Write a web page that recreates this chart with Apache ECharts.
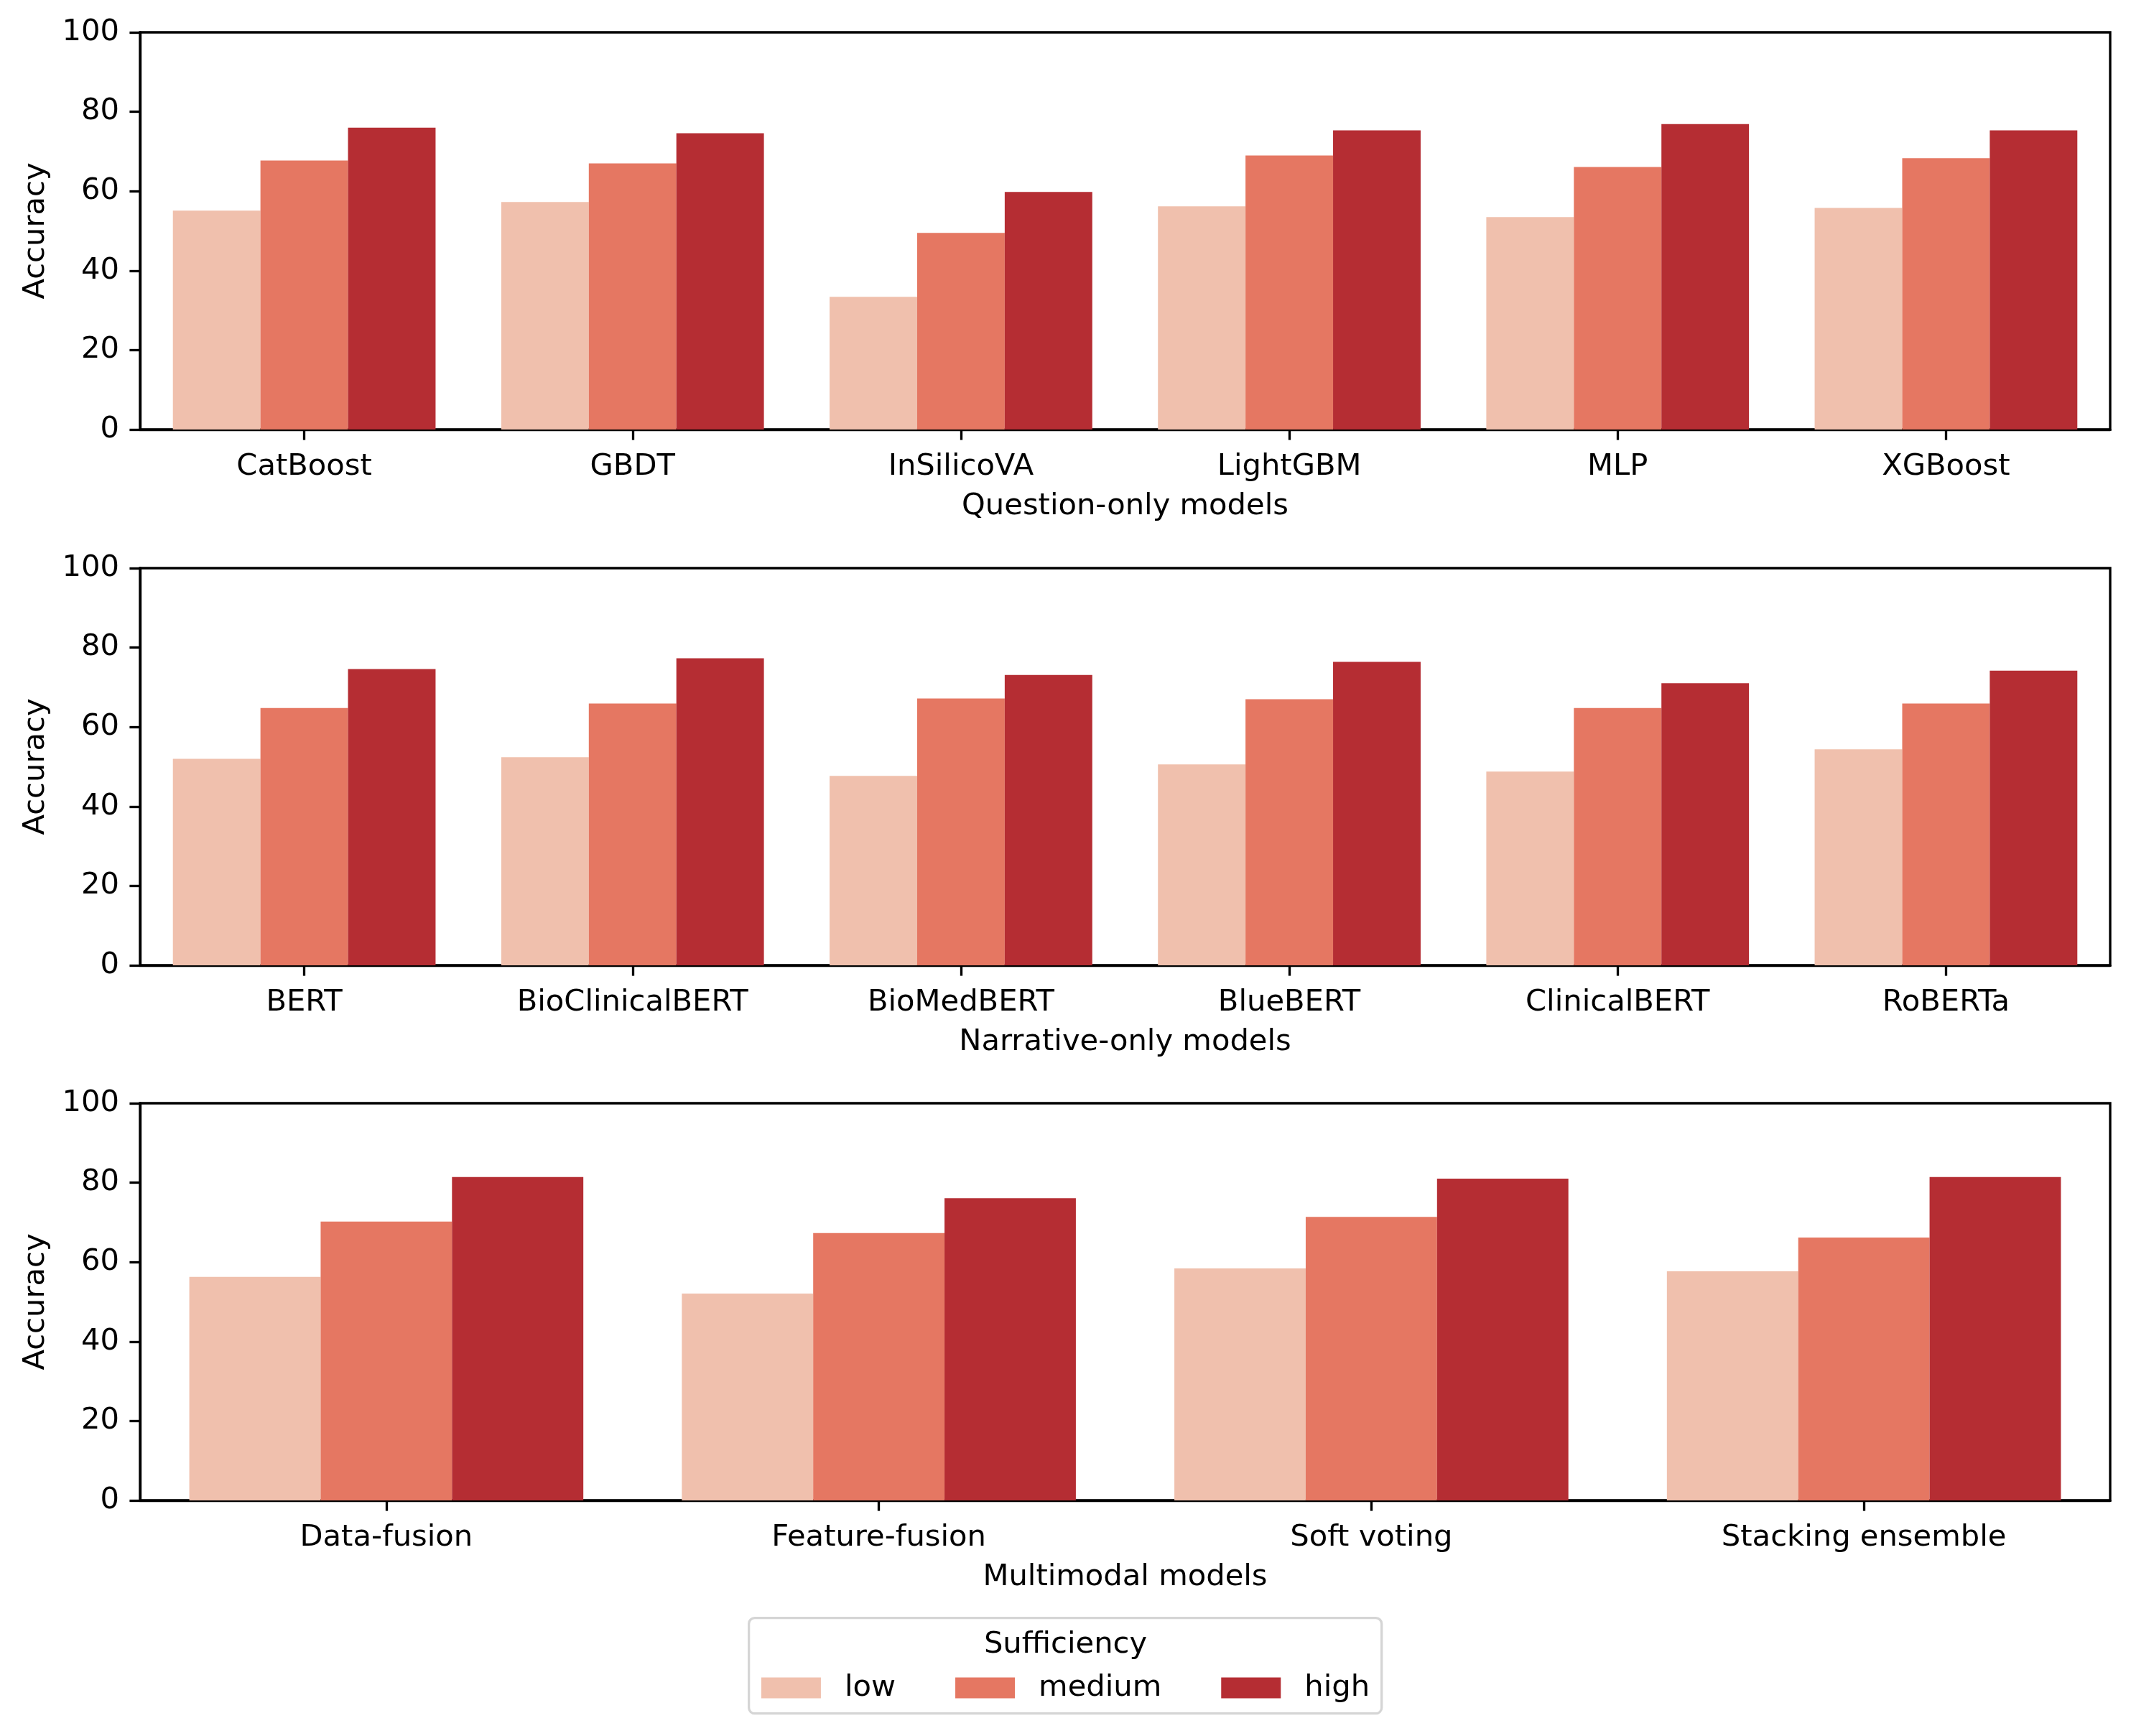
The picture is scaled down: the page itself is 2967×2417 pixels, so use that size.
<!DOCTYPE html>
<html>
<head>
<meta charset="utf-8">
<script src="https://cdn.jsdelivr.net/npm/echarts@6/dist/echarts.min.js"></script>
<style>
html,body{margin:0;padding:0;background:#fff;}
#chart{width:2967px;height:2417px;}
</style>
</head>
<body>
<div id="chart"></div>
<script>
// ---- data ----
var levels = ['low', 'medium', 'high'];
var qCats = ['CatBoost', 'GBDT', 'InSilicoVA', 'LightGBM', 'MLP', 'XGBoost'];
var qLow  = [55.1, 57.3, 33.4, 56.2, 53.5, 55.8];
var qMed  = [67.7, 67.0, 49.5, 69.0, 66.1, 68.3];
var qHigh = [76.0, 74.6, 59.8, 75.3, 76.9, 75.3];

var nCats = ['BERT', 'BioClinicalBERT', 'BioMedBERT', 'BlueBERT', 'ClinicalBERT', 'RoBERTa'];
var nLow  = [52.0, 52.4, 47.7, 50.6, 48.8, 54.4];
var nMed  = [64.8, 65.9, 67.2, 67.0, 64.8, 65.9];
var nHigh = [74.6, 77.3, 73.1, 76.4, 71.0, 74.2];

var mCats = ['Data-fusion', 'Feature-fusion', 'Soft voting', 'Stacking ensemble'];
var mLow  = [56.3, 52.1, 58.4, 57.7];
var mMed  = [70.2, 67.3, 71.4, 66.2];
var mHigh = [81.4, 76.1, 81.0, 81.4];

var xTitles = ['Question-only models', 'Narrative-only models', 'Multimodal models'];
var yTicks = [0, 20, 40, 60, 80, 100];

// ---- styling ----
var FONT = 'DejaVu Sans';
var FS = 41.67;
var LW = 3.33;
var colors = ['#f0c0ad', '#e57762', '#b52d33'];
var gridTops = [45, 791, 1536];
var gridH = 553;

var panels = [
  {cats: qCats, vals: [qLow, qMed, qHigh]},
  {cats: nCats, vals: [nLow, nMed, nHigh]},
  {cats: mCats, vals: [mLow, mMed, mHigh]}
];

var grids = [], xAxes = [], yAxes = [], series = [];
panels.forEach(function (p, i) {
  grids.push({
    left: 195, right: 29, top: gridTops[i], height: gridH,
    show: true, borderColor: '#000', borderWidth: LW, backgroundColor: 'transparent'
  });
  xAxes.push({
    type: 'category', gridIndex: i, data: p.cats,
    name: xTitles[i], nameLocation: 'middle', nameGap: 86,
    nameTextStyle: {fontFamily: FONT, fontSize: FS, color: '#000'},
    axisLine: {show: true, lineStyle: {color: '#000', width: LW}},
    axisTick: {show: true, alignWithLabel: true, interval: 0, length: 14.6, lineStyle: {color: '#000', width: LW}},
    axisLabel: {interval: 0, margin: 31, fontFamily: FONT, fontSize: FS, color: '#000'},
    splitLine: {show: false}
  });
  yAxes.push({
    type: 'value', gridIndex: i, min: yTicks[0], max: yTicks[yTicks.length - 1], interval: 20,
    name: 'Accuracy', nameLocation: 'middle', nameRotate: 90, nameGap: 124,
    nameTextStyle: {fontFamily: FONT, fontSize: FS, color: '#000'},
    axisLine: {show: true, lineStyle: {color: '#000', width: LW}},
    axisTick: {show: true, length: 14.6, lineStyle: {color: '#000', width: LW}},
    axisLabel: {margin: 29, fontFamily: FONT, fontSize: FS, color: '#000'},
    splitLine: {show: false}
  });
  levels.forEach(function (lv, j) {
    series.push({
      type: 'bar', name: lv, xAxisIndex: i, yAxisIndex: i,
      data: p.vals[j],
      barGap: '0%', barCategoryGap: '20%',
      itemStyle: {color: colors[j]},
      emphasis: {disabled: true},
      animation: false
    });
  });
});

var chart = echarts.init(document.getElementById('chart'), null, {renderer: 'canvas'});
chart.setOption({
  backgroundColor: '#fff',
  animation: false,
  textStyle: {fontFamily: FONT},
  title: {
    text: 'Sufficiency', left: 'center', top: 2269, padding: 0,
    textStyle: {fontFamily: FONT, fontSize: FS, fontWeight: 'normal', color: '#000'}
  },
  legend: {
    data: levels, left: 'center', top: 2329, padding: 0,
    itemWidth: 83, itemHeight: 29, itemGap: 83,
    icon: 'rect',
    textStyle: {fontFamily: FONT, fontSize: FS, color: '#000', padding: [0, 0, 0, 28]},
    selectedMode: false
  },
  graphic: [{
    type: 'rect', left: 1041, top: 2251, z: -1,
    shape: {width: 881, height: 133, r: 8},
    style: {fill: '#fff', stroke: '#d5d5d5', lineWidth: 3.3}
  }],
  grid: grids,
  xAxis: xAxes,
  yAxis: yAxes,
  series: series
});
</script>
</body>
</html>
